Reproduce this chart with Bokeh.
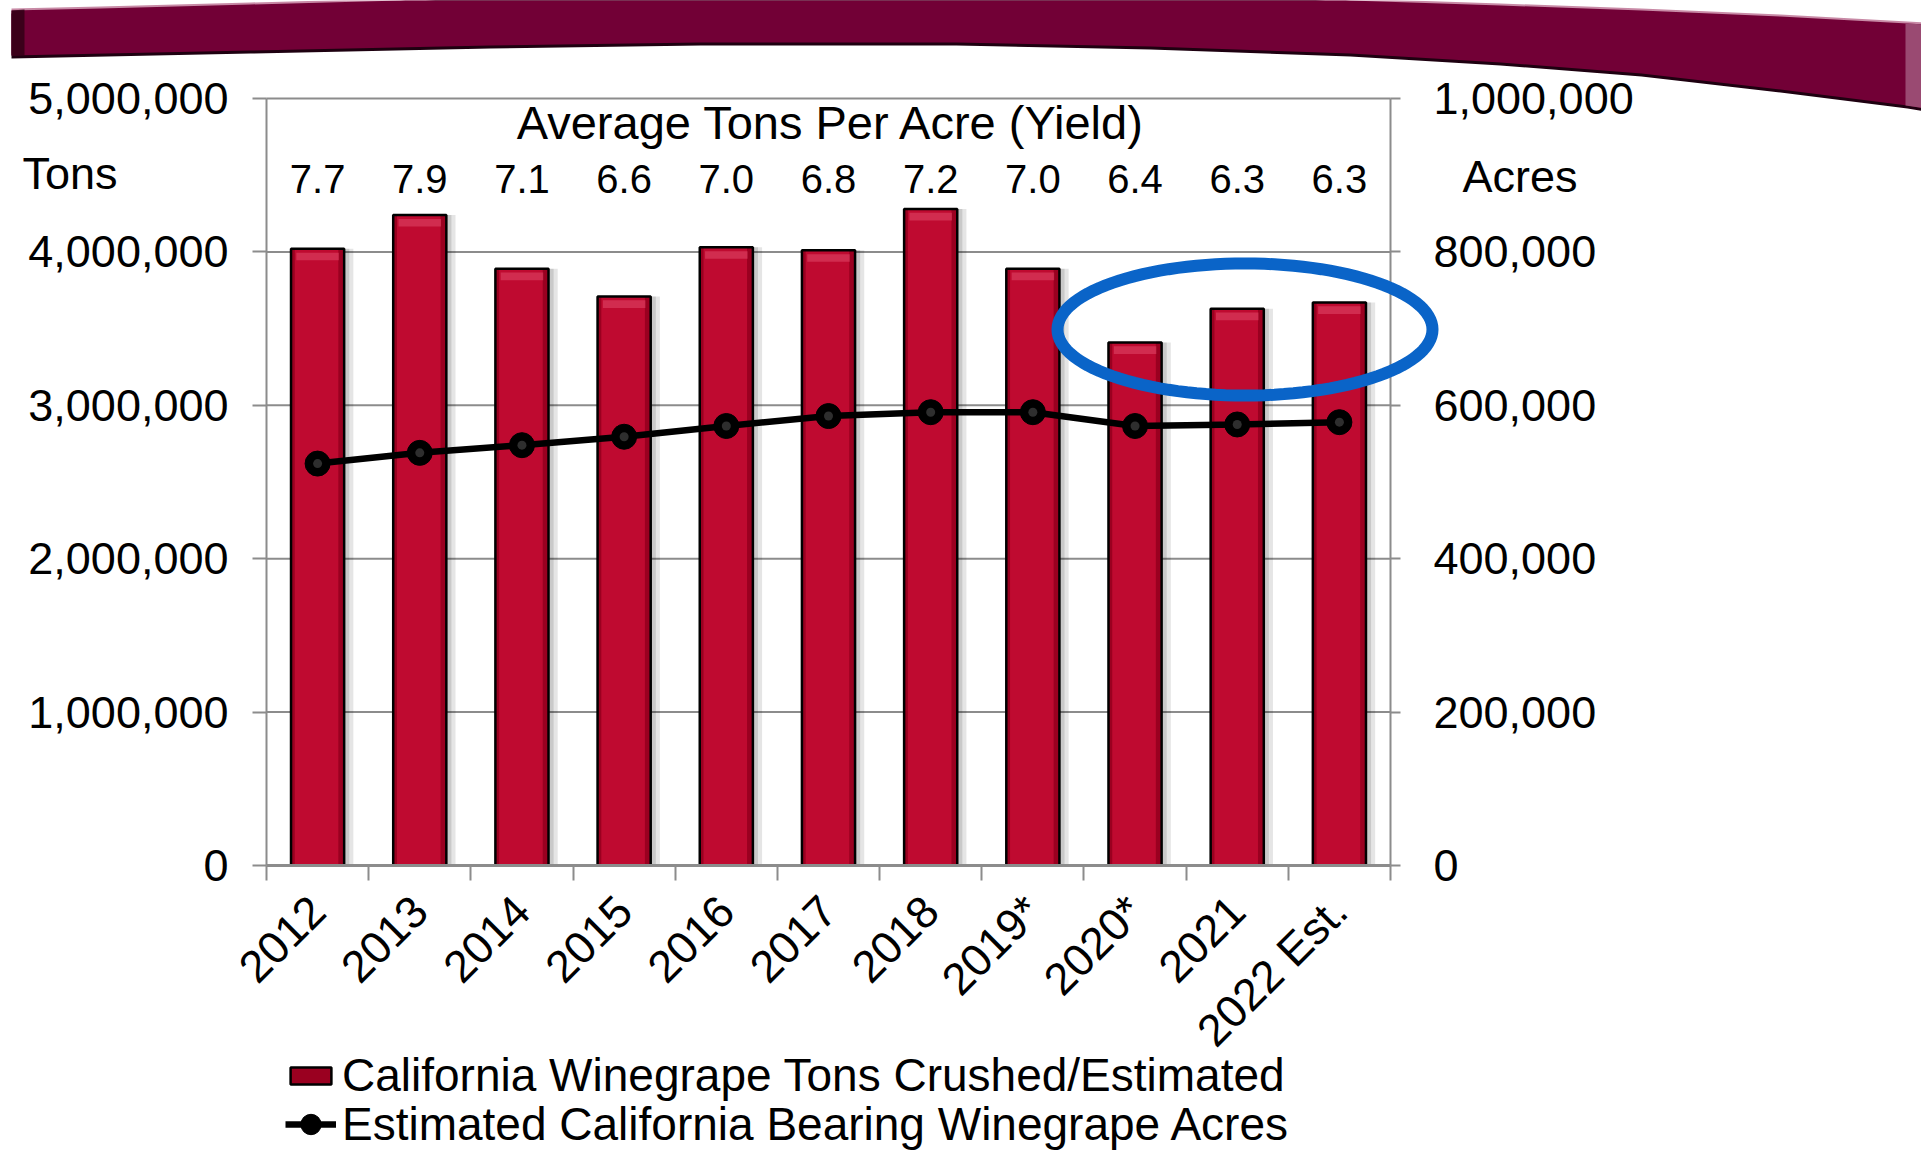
import math
import numpy as np
from bokeh.plotting import figure
from bokeh.models import (Range1d, LinearAxis, FixedTicker, NumeralTickFormatter,
                          ColumnDataSource, Label, Legend, LegendItem, PolyAnnotation)
from bokeh.core.properties import value
from bokeh.transform import dodge
from bokeh.embed import file_html
from bokeh.resources import INLINE

# ---------------- data ----------------
years = ["2012", "2013", "2014", "2015", "2016", "2017", "2018", "2019*", "2020*", "2021", "2022 Est."]
tons = [4020000, 4240000, 3890000, 3710000, 4030000, 4010000, 4280000, 3890000, 3410000, 3630000, 3670000]
acres = [524000, 538000, 548000, 559000, 573000, 586000, 591000, 591000, 573000, 575000, 578000]
yields = ["7.7", "7.9", "7.1", "6.6", "7.0", "6.8", "7.2", "7.0", "6.4", "6.3", "6.3"]
tons_ticks = [0, 1000000, 2000000, 3000000, 4000000, 5000000]
acres_ticks = [0, 200000, 400000, 600000, 800000, 1000000]
bar_label = "California Winegrape Tons Crushed/Estimated"
line_label = "Estimated California Bearing Winegrape Acres"
yield_title = "Average Tons Per Acre (Yield)"

# ---------------- layout ----------------
W, H = 1921, 1153
PL, PR, PT, PB = 266, 1390, 98, 865          # plotting area in canvas px
N = len(years)
TMAX, AMAX = 5e6, 1e6
FONT = "Liberation Sans"
GRAY = "#8c8c8c"
KX = (PR - PL) / N
KY = (PB - PT) / TMAX

def dx(px):   # canvas px -> x data
    return -0.5 + (px - PL) / KX

def dy(py):   # canvas px -> tons data
    return (PB - py) / KY

p = figure(width=W, height=H, x_range=Range1d(dx(0), dx(W)), y_range=Range1d(dy(H), dy(0)),
           output_backend="svg", toolbar_location=None,
           min_border_left=0, min_border_right=0, min_border_top=0, min_border_bottom=0,
           outline_line_color=None, background_fill_color="white", border_fill_color="white")
p.title.visible = False
p.extra_y_ranges = {"acres": Range1d(dy(H) * AMAX / TMAX, dy(0) * AMAX / TMAX)}
p.xgrid.visible = False
p.ygrid.visible = False

def style_axis(a, tick_out, standoff):
    a.major_tick_out = tick_out
    a.major_tick_in = 0
    a.minor_tick_line_color = None
    a.major_tick_line_color = GRAY
    a.major_tick_line_width = 2
    a.axis_line_color = GRAY
    a.axis_line_width = 2
    a.major_label_text_font = FONT
    a.major_label_text_font_size = "45px"
    a.major_label_text_color = "black"
    a.major_label_standoff = standoff

# x axis (labels at centres, tick marks at category boundaries)
xa = p.xaxis[0]
style_axis(xa, 0, 23)
xa.fixed_location = 0
xa.bounds = (-0.5, N - 0.5)
xa.ticker = FixedTicker(ticks=list(range(N)), minor_ticks=[i - 0.5 for i in range(N + 1)])
xa.major_label_overrides = {i: y for i, y in enumerate(years)}
xa.major_tick_line_color = None
xa.minor_tick_in = 0
xa.minor_tick_out = 15
xa.minor_tick_line_color = GRAY
xa.minor_tick_line_width = 2
xa.axis_line_width = 3
xa.major_label_orientation = math.pi / 4

# left axis
ya = p.yaxis[0]
style_axis(ya, 14, 24)
ya.fixed_location = -0.5
ya.bounds = (0, TMAX)
ya.ticker = FixedTicker(ticks=tons_ticks)
ya.formatter = NumeralTickFormatter(format="0,0")

# right axis
ra = LinearAxis(y_range_name="acres", ticker=FixedTicker(ticks=acres_ticks),
                formatter=NumeralTickFormatter(format="0,0"))
style_axis(ra, 10, 33)
ra.fixed_location = N - 0.5
ra.bounds = (0, AMAX)
p.add_layout(ra, "right")

# horizontal grid lines between the two value axes
gsrc = ColumnDataSource(dict(t=tons_ticks[1:]))
p.segment(x0=-0.5, x1=N - 0.5, y0="t", y1="t", source=gsrc, line_color=GRAY, line_width=2)

# ---------------- marks ----------------
src = ColumnDataSource(dict(x=list(range(N)), tons=tons, acres=acres, yields=yields))

BW = 0.52
p.vbar(x=dodge("x", 0.09, range=p.x_range), top="tons", width=BW, source=src,
       fill_color="black", fill_alpha=0.10, line_color=None)
p.vbar(x=dodge("x", 0.05, range=p.x_range), top="tons", width=BW, source=src,
       fill_color="black", fill_alpha=0.12, line_color=None)
bars = p.vbar(x="x", top="tons", width=BW, source=src, fill_color="#9A0020", line_color=None)
p.vbar(x=dodge("x", -0.01, range=p.x_range), top="tons", width=BW * 0.82, source=src,
       fill_color="#BF0A30", line_color=None)
p.vbar(x="x", top=dodge("tons", -25000, range=p.y_range), bottom=dodge("tons", -75000, range=p.y_range),
       width=BW * 0.8, source=src, fill_color="#E0486A", fill_alpha=0.55, line_color=None)
outline = p.vbar(x="x", top="tons", width=BW, source=src, fill_alpha=0,
                 line_color="black", line_width=2.5)

ln = p.line("x", "acres", source=src, y_range_name="acres", line_color="black", line_width=6.5)
sc = p.scatter("x", "acres", source=src, y_range_name="acres", size=25,
               fill_color="black", line_color="black")
p.scatter("x", "acres", source=src, y_range_name="acres", size=9,
          fill_color="#666666", fill_alpha=0.45, line_color=None)

p.text(x="x", y=dy(178), text="yields", source=src, text_align="center", text_baseline="middle",
       text_font=value(FONT), text_font_size="40px", text_color="black")

p.add_layout(Label(x=dx(831), y=dy(122), text=yield_title, text_align="center", text_baseline="middle",
                   text_font=FONT, text_font_size="47px", text_color="black"))
p.add_layout(Label(x=dx(22), y=dy(173), text="Tons", text_align="left", text_baseline="middle",
                   text_font=FONT, text_font_size="45px", text_color="black"))
p.add_layout(Label(x=dx(1462), y=dy(176), text="Acres", text_align="left", text_baseline="middle",
                   text_font=FONT, text_font_size="45px", text_color="black"))

# ---------------- decorations ----------------
top_edge = [(11, 10), (100, 8), (250, 4), (400, 0), (500, -10), (1250, -10), (1350, 0),
            (1500, 5), (1641, 10), (1780, 16), (1907, 23), (1925, 24)]
bot_edge = [(1925, 108), (1907, 105), (1780, 89), (1641, 73), (1500, 62), (1350, 53),
            (1150, 46), (956, 42), (700, 42), (490, 45), (250, 50), (11, 55)]
band = top_edge + bot_edge

def poly(pts, ox=0, oy=0, **kw):
    return PolyAnnotation(xs=[dx(a + ox) for a, b in pts], ys=[dy(b + oy) for a, b in pts],
                          xs_units="data", ys_units="data", **kw)

p.add_layout(poly(band, oy=-2, fill_color="#C88AA6", fill_alpha=1, line_color=None))
p.add_layout(poly(band, oy=3, fill_color="#1E0010", fill_alpha=1, line_color=None))
p.add_layout(poly(band, fill_color="#720036", fill_alpha=1, line_color=None))
p.add_layout(poly([(11, 10), (24, 9), (24, 55), (11, 55)], fill_color="#2A0012",
                  fill_alpha=0.75, line_color=None))
p.add_layout(poly([(1905, 23), (1925, 24), (1925, 108), (1905, 105)], fill_color="#9A4A72",
                  fill_alpha=1, line_color=None))

# highlight ellipse around 2020-2022
cx, cy, ax_, by_ = 1244.5, 329, 187.5, 66
t = np.linspace(0, 2 * np.pi, 121)
ell = list(zip(cx + ax_ * np.cos(t), cy + by_ * np.sin(t)))
p.add_layout(poly(ell, fill_alpha=0, line_color="#0A64C8", line_alpha=1, line_width=12))

# ---------------- legends ----------------
lg1 = Legend(items=[LegendItem(label=bar_label, renderers=[bars, outline])],
             location=(285, 51), glyph_width=51, glyph_height=21, label_standoff=6,
             spacing=0, padding=0, margin=0, border_line_color=None, background_fill_alpha=0,
             label_text_font=FONT, label_text_font_size="46px", label_text_color="black")
lg2 = Legend(items=[LegendItem(label=line_label, renderers=[ln, sc])],
             location=(285, 2), glyph_width=51, glyph_height=52, label_standoff=6,
             spacing=0, padding=0, margin=0, border_line_color=None, background_fill_alpha=0,
             label_text_font=FONT, label_text_font_size="46px", label_text_color="black")
p.add_layout(lg1)
p.add_layout(lg2)

open("out.html", "w").write(file_html(p, INLINE))
